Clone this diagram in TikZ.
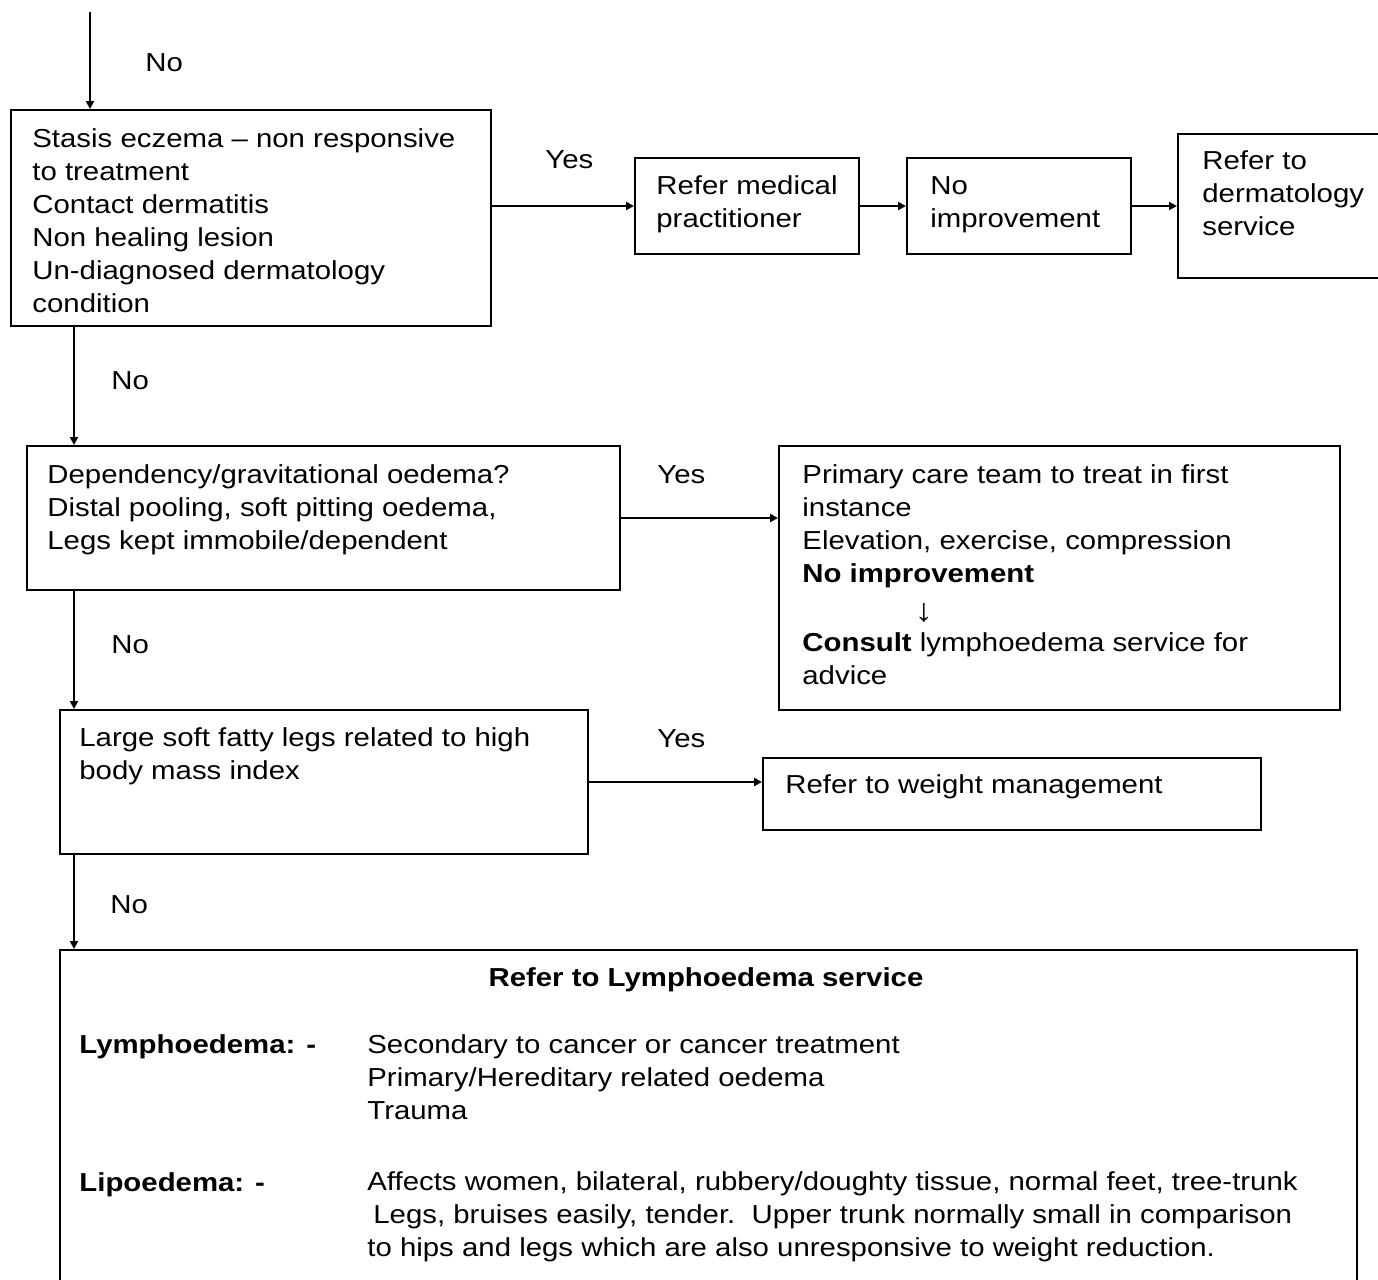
\documentclass[tikz,border=0pt]{standalone}
\usepackage{fontspec}
\setmainfont{Liberation Sans}[FakeStretch=1.13]
\usetikzlibrary{arrows.meta}
\begin{document}
\begin{tikzpicture}[x=0.5pt,y=-0.5pt,
  box/.style={draw, line width=1pt, inner sep=0pt, anchor=north west},
  txt/.style={anchor=base west, align=left, inner sep=0pt, font=\fontsize{13}{16.5}\selectfont},
  lbl/.style={anchor=base west, inner sep=0pt, font=\fontsize{13}{16.5}\selectfont},
  blbl/.style={lbl, font=\fontsize{13}{16.5}\selectfont\bfseries},
  arr/.style={line width=1pt, -{Triangle[length=4pt,width=4pt]}}]
\fill[white] (0,0) rectangle (1378,1280);
\useasboundingbox (0,0) rectangle (1378,1280);
% boxes
\node[box, minimum width=240pt, minimum height=108pt] (A) at (10,109) {};
\node[box, minimum width=112pt, minimum height=48pt] (B) at (634,157) {};
\node[box, minimum width=112pt, minimum height=48pt] (C) at (906,157) {};
\node[box, minimum width=105pt, minimum height=72pt] (D) at (1177,133) {};
\node[box, minimum width=296.5pt, minimum height=72pt] (E) at (26,445) {};
\node[box, minimum width=280.5pt, minimum height=132pt] (F) at (778,445) {};
\node[box, minimum width=264pt, minimum height=72pt] (G) at (59,709) {};
\node[box, minimum width=249pt, minimum height=36pt] (H) at (762,757) {};
\node[box, minimum width=648.5pt, minimum height=180pt] (I) at (59,949) {};
% texts (anchored at the baseline of the last line)
\node[txt] (At) at (32,312) {Stasis eczema – non responsive\\to treatment\\Contact dermatitis\\Non healing lesion\\Un-diagnosed dermatology\\condition};
\node[txt] (Bt) at (656,227) {Refer medical\\practitioner};
\node[txt] (Ct) at (930,227) {No\\improvement};
\node[txt] (Dt) at (1202,235) {Refer to\\dermatology\\service};
\node[txt] (Et) at (47,549) {Dependency/gravitational oedema?\\Distal pooling, soft pitting oedema,\\Legs kept immobile/dependent};
\node[txt] (Ft1) at (802,582) {Primary care team to treat in first\\instance\\Elevation, exercise, compression\\\textbf{No improvement}};
\node[lbl, anchor=base, font=\fontsize{16}{18}\selectfont] (Farr) at (924,621) {↓};
\node[txt] (Ft2) at (802,684) {\textbf{Consult} lymphoedema service for\\advice};
\node[txt] (Gt) at (79,779) {Large soft fatty legs related to high\\body mass index};
\node[txt] (Ht) at (785,793) {Refer to weight management};
\node[blbl, anchor=base] (It) at (706,986) {Refer to Lymphoedema service};
\node[blbl] (Ll) at (79,1053) {Lymphoedema: -};
\node[txt] (Lt) at (367,1119) {Secondary to cancer or cancer treatment\\Primary/Hereditary related oedema\\Trauma};
\node[blbl] (Pl) at (79,1191) {Lipoedema: -};
\node[txt] (Pt) at (367,1256) {Affects women, bilateral, rubbery/doughty tissue, normal feet, tree-trunk\\\hspace*{3pt}Legs, bruises easily, tender.\ \ Upper trunk normally small in comparison\\to hips and legs which are also unresponsive to weight reduction.};
% labels
\node[lbl] (n1) at (145,71) {No};
\node[lbl] (y1) at (545,168) {Yes};
\node[lbl] (n2) at (111,389) {No};
\node[lbl] (y2) at (657,483) {Yes};
\node[lbl] (n3) at (111,653) {No};
\node[lbl] (y3) at (657,747) {Yes};
\node[lbl] (n4) at (110,913) {No};
% connectors
\coordinate (top) at (90,12);
\coordinate (col) at (74,0);
\draw[arr] (top) -- (top |- A.north);
\draw[arr] (A.south -| col) -- (E.north -| col);
\draw[arr] (E.south -| col) -- (G.north -| col);
\draw[arr] (G.south -| col) -- (I.north -| col);
\draw[arr] (A.east |- B.west) -- (B.west);
\draw[arr] (B.east) -- (C.west);
\draw[arr] (C.east) -- (C.east -| D.west);
\draw[arr] (E.east) -- (E.east -| F.west);
\draw[arr] (G.east) -- (G.east -| H.west);
\end{tikzpicture}
\end{document}
